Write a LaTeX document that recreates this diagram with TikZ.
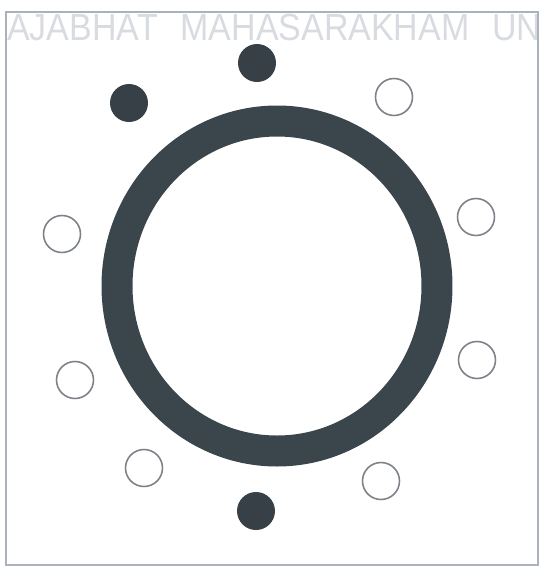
\documentclass[tikz,border=0pt]{standalone}
\usepackage{fontspec}
\setmainfont{Liberation Sans}
\newfontfamily\markfont[WordSpace=2.4]{Liberation Sans}
\definecolor{rmring}{RGB}{58,70,76}
\definecolor{rmdot}{RGB}{55,64,70}
\definecolor{rmhole}{RGB}{125,130,136}
\definecolor{rmframe}{RGB}{172,178,188}
\definecolor{rmmark}{RGB}{216,219,224}

\begin{document}
\begin{tikzpicture}[x=0.02cm,y=-0.02cm,
  fulldot/.style={circle,fill=rmdot,minimum size=0.76cm,inner sep=0pt},
  emptydot/.style={circle,draw=rmhole,line width=0.9pt,minimum size=0.74cm,inner sep=0pt}]
  \useasboundingbox (0,0) rectangle (541,566);
  \begin{scope}
    \clip (0,0) rectangle (541,566);
    \node[anchor=base west,text=rmmark,font=\markfont\fontsize{21.5}{24}\selectfont,
      xscale=0.9,inner sep=0pt] (mark) at (7,40) {AJABHAT MAHASARAKHAM UN};
  \end{scope}
  \draw[rmframe,line width=0.8pt] (6,12) rectangle (538,565);
  % ring
  \coordinate (O) at (277,286);
  \draw[rmring,line width=0.62cm] (O) ellipse [x radius=160,y radius=165];
  % dots round the ring
  \node[fulldot] (dtop) at (257,63) {};
  \node[fulldot] (dul) at (129,103) {};
  \node[fulldot] (dbot) at (256,511) {};
  \node[emptydot] (hur) at (394,97) {};
  \node[emptydot] (hr) at (476,217) {};
  \node[emptydot] (hlr) at (477,360) {};
  \node[emptydot] (hbr) at (381,481) {};
  \node[emptydot] (hbl) at (144,468) {};
  \node[emptydot] (hll) at (75,380) {};
  \node[emptydot] (hl) at (62,234) {};
\end{tikzpicture}
\end{document}
